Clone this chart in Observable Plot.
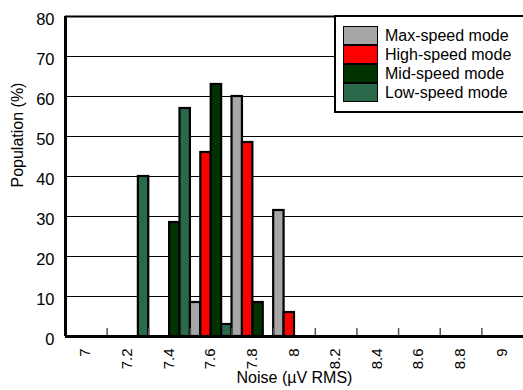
<!DOCTYPE html>
<html>
<head>
<meta charset="utf-8">
<script src="https://cdn.jsdelivr.net/npm/d3@7"></script>
<script src="https://cdn.jsdelivr.net/npm/@observablehq/plot@0.6"></script>
<style>
  html, body { margin: 0; padding: 0; background: #fff; }
  #wrap { position: relative; width: 523px; height: 390px; overflow: hidden; font-family: "Liberation Sans", Arial, sans-serif; }
  #legend { position: absolute; left: 334px; top: 15px; width: 200px; height: 94px; background: #fff;
            border-left: 2.5px solid #000; border-top: 2px solid #000; border-bottom: 2.5px solid #000; }
  .row { position: absolute; left: 7px; height: 19px; display: flex; align-items: center; }
  .sw { width: 35px; height: 19px; border: 1px solid #000; box-sizing: border-box; }
  .lab { margin-left: 7px; font-family: "Liberation Sans", Arial, sans-serif; font-size: 16px; color: #000; white-space: nowrap; }
</style>
</head>
<body>
<div id="wrap"></div>
<script>
// ---- data ----
const bins = ["7", "7.2", "7.4", "7.6", "7.8", "8", "8.2", "8.4", "8.6", "8.8", "9"];
const modes = ["Max-speed mode", "High-speed mode", "Mid-speed mode", "Low-speed mode"];
const maxSpeed  = [0, 0, 0,    8.5, 60,   31.5, 0, 0, 0, 0, 0];
const highSpeed = [0, 0, 0,    46,  48.5, 6,    0, 0, 0, 0, 0];
const midSpeed  = [0, 0, 28.5, 63,  8.5,  0,    0, 0, 0, 0, 0];
const lowSpeed  = [0, 40, 57,  3,   0,    0,    0, 0, 0, 0, 0];
const colors = ["#a6a6a6", "#ff0000", "#003300", "#2a6a4a"];
const yTicks = [0, 10, 20, 30, 40, 50, 60, 70, 80];

const series = [maxSpeed, highSpeed, midSpeed, lowSpeed];
const rows = [];
bins.forEach((b, i) => {
  series.forEach((s, k) => {
    if (s[i] > 0) rows.push({bin: i, slot: k, mode: modes[k], value: s[i]});
  });
});
const binIdx = bins.map((b, i) => i);

const chart = Plot.plot({
  width: 523,
  height: 390,
  marginLeft: 65,
  marginRight: 0,
  marginTop: 16,
  marginBottom: 54,
  style: {fontFamily: "'Liberation Sans', Arial, sans-serif", fontSize: "15px", color: "#000", background: "#fff"},
  x: {type: "linear", domain: [0, bins.length], axis: null},
  y: {domain: [0, 80], axis: null},
  color: {domain: modes, range: colors},
  marks: [
    Plot.ruleY(yTicks.slice(1, -1), {stroke: "#000", strokeWidth: 1}),
    Plot.rectY(rows, {
      x1: d => d.bin + d.slot / modes.length,
      x2: d => d.bin + (d.slot + 1) / modes.length,
      y1: 0, y2: "value",
      fill: "mode", stroke: "#000", strokeWidth: 2.2
    }),
    Plot.tickX(binIdx.slice(1), {x: d => d, insetTop: 312, stroke: "#555", strokeWidth: 1.5}),
    Plot.ruleY([0], {stroke: "#000", strokeWidth: 3}),
    Plot.ruleY([80], {stroke: "#000", strokeWidth: 2}),
    Plot.ruleX([0], {stroke: "#000", strokeWidth: 3}),
    Plot.axisY({ticks: yTicks, tickSize: 0, tickPadding: 11, label: null, fontSize: 16.5, dy: 3}),
    Plot.text(binIdx, {
      x: d => d + 0.5, text: d => bins[d], frameAnchor: "bottom",
      rotate: -90, textAnchor: "end", dy: 12, dx: 4, fontSize: 15, fill: "#000"
    }),
    Plot.text(["Noise (µV RMS)"], {frameAnchor: "bottom", dy: 46, fontSize: 16, fill: "#000"}),
    Plot.text(["Population (%)"], {frameAnchor: "left", dx: -48, dy: 11, rotate: -90, fontSize: 16, fill: "#000"})
  ]
});

const wrap = document.getElementById("wrap");
wrap.appendChild(chart);

const legend = document.createElement("div");
legend.id = "legend";
modes.forEach((m, k) => {
  const r = document.createElement("div");
  r.className = "row";
  r.style.top = (9 + k * 19) + "px";
  const sw = document.createElement("div");
  sw.className = "sw";
  sw.style.background = colors[k];
  const lab = document.createElement("span");
  lab.className = "lab";
  lab.textContent = m;
  r.appendChild(sw);
  r.appendChild(lab);
  legend.appendChild(r);
});
wrap.appendChild(legend);
</script>
</body>
</html>
